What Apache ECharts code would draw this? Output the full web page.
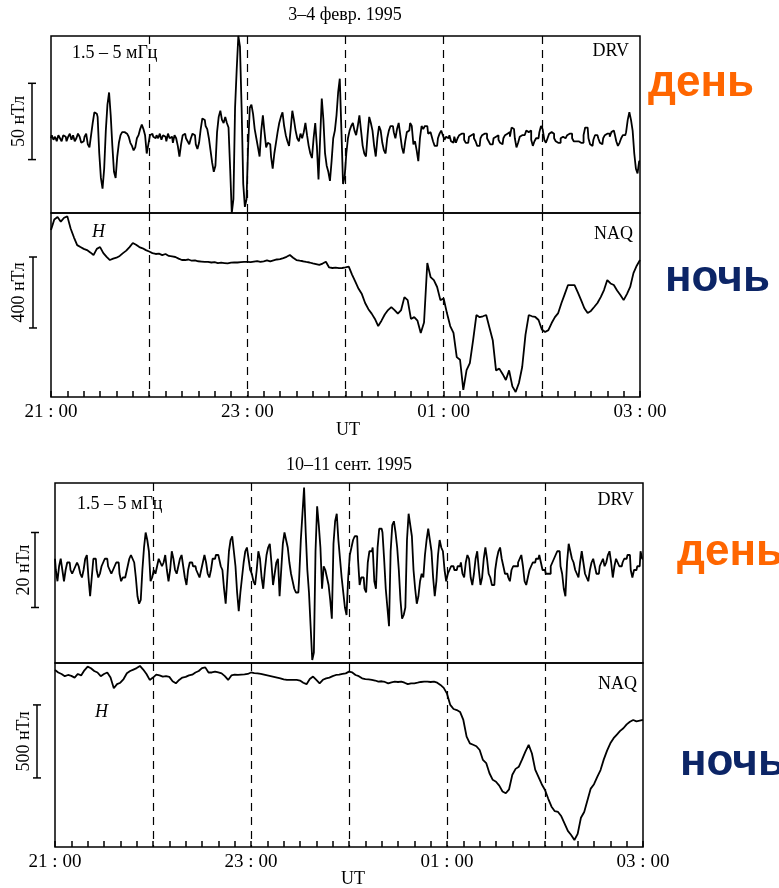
<!DOCTYPE html>
<html>
<head>
<meta charset="utf-8">
<script src="https://cdn.jsdelivr.net/npm/echarts@6/dist/echarts.min.js"></script>
<style>
  html, body { margin: 0; padding: 0; background: #fff; }
  #chart { width: 779px; height: 888px; }
</style>
</head>
<body>
<div id="chart"></div>
<script>
// time is minutes after 21:00 UT; DRV read every minute, NAQ every 2 minutes
const drvStep = 1
const naqStep = 2
const timeLabels = ['21 : 00', '23 : 00', '01 : 00', '03 : 00']

// 3-4 Feb 1995, DRV filtered 1.5-5 mHz, nT
const drvFeb = [
  0, 2, -1, 1, -2, 2, 0, -2, 2, 1, -2, 1, 3, -1, 2, -2, 0, 3, 1, -3,
  -2, 1, 3, -4, -6, 2, 10, 17, 16, 14, -10, -26, -33, -20, 5, 22, 30, 15, -5, -22,
  -26, -12, -3, 2, 4, 4, 3, 4, 1, -3, -5, -8, -6, 0, 2, 6, 9, 6, 2, -10,
  -4, 2, 3, 1, 0, 2, 0, 3, -1, 2, 1, -2, 3, 0, 1, -3, 2, 0, -5, -12,
  -4, 2, 3, 0, -2, -4, 0, 3, 2, -4, -7, -3, 6, 13, 12, 8, 6, 0, -8, -16,
  -22, -18, 4, 14, 18, 12, 10, 14, 10, 7, -20, -49, -40, 20, 45, 67, 60, 20, -30, -45,
  -40, -5, 20, 22, 16, 6, 0, -6, -12, 5, 15, 4, -6, -3, -4, -12, -20, -10, -3, 4,
  10, 14, 17, 8, 2, -2, -5, 6, 18, 12, 5, 0, -2, 3, 0, 4, 10, 2, -5, -10,
  -13, 0, 10, -5, -27, 0, 26, 12, -10, -18, -22, -28, -15, 0, 5, 15, 30, 39, 5, -30,
  -25, -10, 0, 5, 8, 10, 5, 2, 8, 15, 5, -5, -10, -12, 2, 14, 10, 5, -5, -12,
  0, 8, 5, -3, -8, -10, 0, 5, 8, 8, 4, 0, 6, 10, 2, -6, -10, -2, 4, 5,
  10, 8, -4, -2, -8, -15, 0, 8, 6, 8, 8, 3, 4, 2, -2, -5, -5, 0, 3, 5,
  2, -1, 1, 0, 2, -2, -3, 1, -3, 0, 2, 3, 3, -1, -3, -3, 1, 2, 3, 0,
  -2, -5, -5, 0, 2, 3, 3, 0, -2, -4, -4, 0, 1, 2, -1, -3, -4, 0, 2, 3,
  4, 1, 7, 6, 0, -6, -3, 1, 2, 2, 3, 5, 4, 5, -1, -5, -2, 0, 0, 4,
  8, 6, -1, -3, 0, 3, 4, 3, 0, -2, -3, -3, 0, 1, 0, 0, 2, 3, 3, 0,
  -2, -2, -2, -1, -3, -3, 2, 7, 7, 0, -4, -5, -1, 2, 2, 0, -3, -4, 0, 2,
  3, 3, 1, 4, 5, 3, -2, -5, -3, 0, 2, 2, 4, 12, 17, 12, 5, -10, -20, -23,
  -15
]

// 3-4 Feb 1995, NAQ H component, nT above panel floor
const naqFeb = [
  941, 1000, 1014, 988, 1010, 1018, 950, 900, 856, 845,
  835, 828, 815, 800, 835, 845, 811, 790, 772, 780,
  785, 795, 811, 825, 845, 868, 858, 845, 838, 828,
  820, 811, 806, 808, 800, 806, 795, 792, 789, 780,
  772, 772, 775, 768, 770, 765, 763, 761, 761, 758,
  760, 755, 757, 755, 753, 757, 758, 758, 760, 761,
  761, 760, 763, 766, 761, 765, 770, 764, 770, 775,
  777, 783, 790, 800, 785, 772, 768, 765, 761, 758,
  753, 749, 745, 752, 762, 730, 727, 729, 726, 727,
  730, 735, 690, 650, 610, 580, 530, 495, 470, 440,
  400, 430, 465, 490, 507, 490, 470, 490, 563, 546,
  440, 450, 430, 361, 420, 755, 676, 659, 620, 546,
  555, 473, 400, 361, 225, 210, 40, 152, 191, 321,
  462, 450, 455, 462, 390, 320, 150, 160, 130, 96,
  150, 60, 28, 79, 169, 350, 462, 455, 451, 434,
  380, 366, 377, 417, 450, 473, 530, 580, 631, 630,
  631, 590, 546, 500, 473, 485, 507, 530, 563, 603,
  659, 640, 631, 600, 575, 546, 580, 620, 698, 740,
  772
]

// 10-11 Sep 1995, DRV filtered 1.5-5 mHz, nT
const drvSep = [
  3, 0, -3, 1, 3, 0, -3, 0, 2, 2, 0, -1, 0, 1, 2, 1, -1, -2, 0, 3,
  4, -2, -7, -2, 3, 3, 0, -2, -1, 1, 2, 3, 3, 1, 0, -1, 0, 1, 2, 2,
  -1, -3, -2, -2, -1, 1, 3, 4, 3, 2, -2, -7, -9, -8, 0, 6, 10, 8, 5, -3,
  -2, 0, -1, 1, 3, 2, 1, 2, 4, 0, -3, 0, 5, 3, 0, -1, 1, 3, 4, 1,
  -2, -4, 0, 2, 2, 1, 1, 0, -1, -2, 0, 2, 4, 2, -1, -2, 0, 3, 3, 4,
  4, 3, 1, 0, -5, -9, -2, 5, 8, 9, 5, 1, -6, -11, -6, -2, 2, 5, 6, 3,
  0, -1, -3, -4, 0, 5, 3, -2, -5, 0, 4, 6, 7, 2, -4, -1, 2, 3, -7, 0,
  7, 10, 8, 6, 2, -1, -3, -5, -6, -6, -2, 8, 15, 22, 10, 0, -6, -15, -24, -22,
  5, 17, 12, 6, -5, 1, 0, -2, -4, -8, -13, 7, 13, 15, 8, 3, -2, -6, -10, -12,
  -2, 4, 6, 8, 9, 9, 3, -4, -2, -2, -5, -6, 2, 5, 5, 6, -3, -5, 6, 11,
  11, 10, 3, -5, -10, -15, 5, 12, 13, 10, 6, 0, -8, -13, -12, -10, 8, 15, 12, 9,
  0, -5, -9, -7, -3, -1, -2, 4, 8, 11, 8, 5, -2, -7, -3, 4, 8, 6, 5, 0,
  -3, -1, 0, 1, 1, 0, 0, 1, 1, 2, -1, -2, 2, 4, 3, -2, -4, -1, 3, 5,
  0, -4, -2, 3, 6, 3, -1, -2, -4, -4, 0, 3, 5, 6, 3, 1, -1, -1, -2, -3,
  0, 1, 1, 1, 2, 3, 4, 1, -3, -4, -2, 0, 1, 2, 2, 3, 3, 4, 2, 0,
  0, -1, -1, -1, 1, 2, 3, 4, 5, 5, 1, -1, -5, -7, 2, 7, 5, 3, 2, 0,
  -1, -2, 2, 5, 2, -1, -2, -3, 0, 2, 3, 1, -1, -1, 1, 2, 3, 1, 2, 4,
  5, 2, -2, 1, 3, 2, 1, 1, 2, 3, 3, 4, 4, 0, -2, 0, 0, 1, 1, 5,
  3
]

// 10-11 Sep 1995, NAQ H component, nT above panel floor
const naqSep = [
  1212, 1195, 1185, 1170, 1178, 1172, 1160, 1185, 1175, 1210,
  1235, 1224, 1205, 1195, 1170, 1185, 1195, 1160, 1087, 1115,
  1125, 1150, 1190, 1205, 1215, 1225, 1240, 1215, 1185, 1144,
  1160, 1180, 1175, 1167, 1170, 1165, 1135, 1121, 1144, 1160,
  1165, 1175, 1180, 1195, 1205, 1225, 1230, 1195, 1195, 1201,
  1195, 1189, 1170, 1144, 1175, 1180, 1178, 1180, 1182, 1185,
  1195, 1190, 1189, 1185, 1180, 1175, 1170, 1165, 1160, 1155,
  1148, 1144, 1144, 1145, 1144, 1140, 1125, 1115, 1150, 1167,
  1144, 1121, 1145, 1155, 1160, 1170, 1178, 1180, 1185, 1189,
  1201, 1195, 1178, 1170, 1155, 1150, 1148, 1144, 1140, 1132,
  1135, 1130, 1121, 1128, 1132, 1130, 1133, 1125, 1115, 1120,
  1121, 1125, 1130, 1132, 1132, 1130, 1132, 1125, 1110, 1090,
  1050, 973, 945, 938, 925, 870, 756, 710, 700, 690,
  664, 596, 575, 505, 460, 447, 420, 380, 368, 395,
  495, 535, 550, 600, 653, 699, 640, 530, 480, 430,
  390, 330, 276, 245, 240, 210, 160, 110, 82, 48,
  90, 200, 240, 320, 400, 430, 480, 527, 600, 660,
  710, 745, 770, 795, 813, 840, 858, 870, 860, 865,
  870
]

const titles = ['3–4 февр. 1995', '10–11 сент. 1995']
const bandLabel = '1.5 – 5 мГц'
const stations = ['DRV', 'NAQ', 'DRV', 'NAQ']
const dayNight = ['день', 'ночь', 'день', 'ночь']
// scale bars drawn beside each panel, in the panel's own units
const scaleFrom = [-14, 389, -10, 473]
const scaleSize = [50, 400, 20, 500]
const scaleText = ['50 нТл', '400 нТл', '20 нТл', '500 нТл']

const serif = '"Liberation Serif", "Times New Roman", serif'
const sans = '"Liberation Sans", Arial, sans-serif'

const panels = [
  { data: drvFeb, step: drvStep, stepped: true, grid: { left: 51, top: 36, width: 589, height: 177 }, y: [-49, 67], bottom: false },
  { data: naqFeb, step: naqStep, stepped: false, grid: { left: 51, top: 213, width: 589, height: 184 }, y: [0, 1037], bottom: true },
  { data: drvSep, step: drvStep, stepped: true, grid: { left: 55, top: 483, width: 588, height: 180 }, y: [-24.8, 23.2], bottom: false },
  { data: naqSep, step: naqStep, stepped: false, grid: { left: 55, top: 663, width: 588, height: 184 }, y: [0, 1260], bottom: true }
]

const chart = echarts.init(document.getElementById('chart'))

chart.setOption({
  animation: false,
  backgroundColor: '#fff',
  grid: panels.map(p => ({
    ...p.grid,
    show: true,
    borderColor: '#000',
    borderWidth: 1.5,
    backgroundColor: 'transparent'
  })),
  xAxis: panels.map((p, i) => ({
    gridIndex: i,
    type: 'value',
    min: 0,
    max: 360,
    interval: 60,
    axisLine: { show: false },
    axisTick: { show: p.bottom, inside: true, length: 6, lineStyle: { color: '#000', width: 1.5 } },
    minorTick: { show: p.bottom, splitNumber: 6, length: 6, lineStyle: { color: '#000', width: 1.5 } },
    axisLabel: {
      show: p.bottom,
      margin: 6,
      color: '#000',
      fontFamily: serif,
      fontSize: 19,
      formatter: v => (v % 120 === 0 ? timeLabels[v / 120] : '')
    },
    splitLine: {
      show: true,
      showMinLine: false,
      showMaxLine: false,
      lineStyle: { color: '#000', width: 1.2, type: [8, 6] }
    }
  })),
  yAxis: panels.map((p, i) => ({
    gridIndex: i,
    type: 'value',
    min: p.y[0],
    max: p.y[1],
    show: false
  })),
  series: panels.map((p, i) => ({
    type: 'line',
    xAxisIndex: i,
    yAxisIndex: i,
    showSymbol: false,
    symbol: 'none',
    step: p.stepped ? 'middle' : false,
    clip: true,
    lineStyle: { color: '#000', width: 1.8 },
    data: p.data.map((v, k) => [k * p.step, v])
  }))
})

const txt = (x, y, text, font, align, extra) => Object.assign({
  type: 'text',
  x,
  y,
  silent: true,
  style: { text, font, fill: '#000', align, textAlign: align, verticalAlign: 'middle', textVerticalAlign: 'middle' }
}, extra || {})

const graphics = []

// titles, UT, in-panel labels
graphics.push(txt(345, 15, titles[0], '18px ' + serif, 'center'))
graphics.push(txt(349, 465, titles[1], '18px ' + serif, 'center'))
graphics.push(txt(348, 430, 'UT', '18px ' + serif, 'center'))
graphics.push(txt(353, 879, 'UT', '18px ' + serif, 'center'))
graphics.push(txt(72, 53, bandLabel, '18px ' + serif, 'left'))
graphics.push(txt(77, 504, bandLabel, '18px ' + serif, 'left'))
graphics.push(txt(629, 51, stations[0], '18px ' + serif, 'right'))
graphics.push(txt(633, 234, stations[1], '18px ' + serif, 'right'))
graphics.push(txt(634, 500, stations[2], '18px ' + serif, 'right'))
graphics.push(txt(637, 684, stations[3], '18px ' + serif, 'right'))
graphics.push(txt(92, 232, 'H', 'italic 18px ' + serif, 'left'))
graphics.push(txt(95, 712, 'H', 'italic 18px ' + serif, 'left'))

// день / ночь
const dnStyle = [
  { x: 648, y: 84, color: '#ff6600' },
  { x: 665, y: 279, color: '#0c2566' },
  { x: 677, y: 553, color: '#ff6600' },
  { x: 680, y: 763, color: '#0c2566' }
]
dayNight.forEach((t, i) => {
  const el = txt(dnStyle[i].x, dnStyle[i].y, t, 'bold 44px ' + sans, 'left')
  el.style.fill = dnStyle[i].color
  graphics.push(el)
})

// scale bars, positioned through each panel's y scale
const barX = [32, 33, 35, 37]
const barTextX = [19, 19, 24, 24]
scaleFrom.forEach((from, i) => {
  const y1 = chart.convertToPixel({ yAxisIndex: i }, from)
  const y2 = chart.convertToPixel({ yAxisIndex: i }, from + scaleSize[i])
  const x = barX[i]
  const ls = { stroke: '#000', lineWidth: 1.5 }
  graphics.push({ type: 'line', silent: true, shape: { x1: x, y1, x2: x, y2 }, style: ls })
  graphics.push({ type: 'line', silent: true, shape: { x1: x - 4, y1, x2: x + 4, y2: y1 }, style: ls })
  graphics.push({ type: 'line', silent: true, shape: { x1: x - 4, y1: y2, x2: x + 4, y2 }, style: ls })
  graphics.push(txt(barTextX[i], (y1 + y2) / 2, scaleText[i], '18px ' + serif, 'center', { rotation: Math.PI / 2 }))
})

chart.setOption({ graphic: graphics })
</script>
</body>
</html>
